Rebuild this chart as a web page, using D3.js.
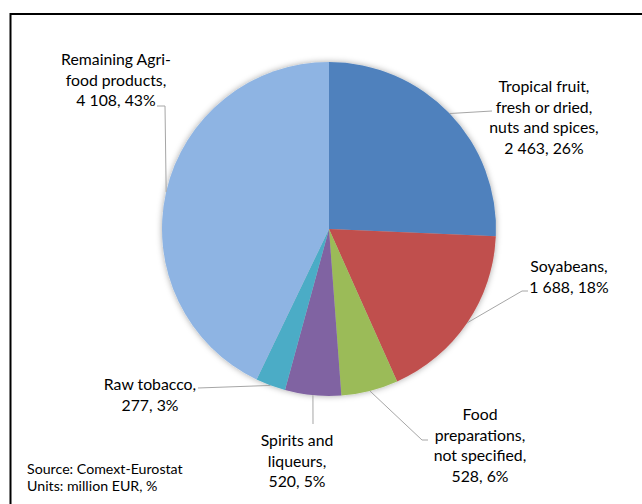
<!DOCTYPE html>
<html>
<head>
<meta charset="utf-8">
<script src="https://cdn.jsdelivr.net/npm/d3@7"></script>
<style>
  html, body { margin: 0; padding: 0; background: #fff; }
  svg { display: block; }
</style>
</head>
<body>
<script>
// ---- data ----
const categories = [
  ["Tropical fruit,", "fresh or dried,", "nuts and spices,"],
  ["Soyabeans,"],
  ["Food", "preparations,", "not specified,"],
  ["Spirits and", "liqueurs,"],
  ["Raw tobacco,"],
  ["Remaining Agri-", "food products,"]
];
const values = [2463, 1688, 528, 520, 277, 4108];
const colors = ["#4F81BD", "#C0504D", "#9BBB59", "#8064A2", "#4BACC6", "#8EB4E3"];
const sourceLines = ["Source: Comext-Eurostat", "Units: million EUR, %"];

// ---- layout (label anchor centres / first baselines, leader bends) ----
const labelLayout = [
  { x: 544, y: 92,  leader: [[492, 111]] },
  { x: 569, y: 272, leader: [[522, 291], [528, 291]] },
  { x: 480, y: 420, leader: [[422, 440], [428, 440]] },
  { x: 297, y: 446, leader: [[313, 424]] },
  { x: 150, y: 390, leader: [[198, 388]] },
  { x: 116, y: 65,  leader: [[165, 106], [157, 106]] }
];

const W = 642, H = 504;
const cx = 329, cy = 229, R = 167;
const lineH = 20.6;
const font = "Lato, 'Liberation Sans', sans-serif";

const svg = d3.select("body").append("svg").attr("width", W).attr("height", H);

// frame
svg.append("rect").attr("x", 10.5).attr("y", 14).attr("width", 700).attr("height", 600)
  .attr("fill", "none").attr("stroke", "#000").attr("stroke-width", 2);

const defs = svg.append("defs");
const f = defs.append("filter").attr("id", "sh").attr("x", "-20%").attr("y", "-20%").attr("width", "140%").attr("height", "140%");
f.append("feDropShadow").attr("dx", 0).attr("dy", 0).attr("stdDeviation", 3)
  .attr("flood-color", "#000").attr("flood-opacity", 0.35);

const total = d3.sum(values);
const pie = d3.pie().sort(null).value(d => d);
const arcs = pie(values);
const arc = d3.arc().innerRadius(0).outerRadius(R);

const g = svg.append("g").attr("transform", `translate(${cx},${cy})`);
g.append("g").attr("filter", "url(#sh)")
  .selectAll("path").data(arcs).join("path")
  .attr("d", arc)
  .attr("fill", (d, i) => colors[i]);

// leader lines
const fmt = v => d3.format(",")(v).replace(/,/g, " ");
arcs.forEach((a, i) => {
  const mid = (a.startAngle + a.endAngle) / 2;
  const p0 = [cx + R * Math.sin(mid), cy - R * Math.cos(mid)];
  const pts = [p0].concat(labelLayout[i].leader);
  svg.append("path")
    .attr("d", d3.line()(pts))
    .attr("fill", "none").attr("stroke", "#A6A6A6").attr("stroke-width", 1);
});

// labels
arcs.forEach((a, i) => {
  const L = labelLayout[i];
  const pct = Math.round(values[i] / total * 100);
  const lines = categories[i].concat([`${fmt(values[i])}, ${pct}%`]);
  const t = svg.append("text")
    .attr("font-family", font).attr("font-size", 15.8).attr("fill", "#000")
    .attr("text-anchor", "middle");
  lines.forEach((s, j) => {
    t.append("tspan").attr("x", L.x).attr("y", L.y + j * lineH).text(s);
  });
});

// source
const st = svg.append("text").attr("font-family", font).attr("font-size", 14.2).attr("fill", "#000");
sourceLines.forEach((s, j) => st.append("tspan").attr("x", 27).attr("y", 474 + j * 16.5).text(s));
</script>
</body>
</html>
